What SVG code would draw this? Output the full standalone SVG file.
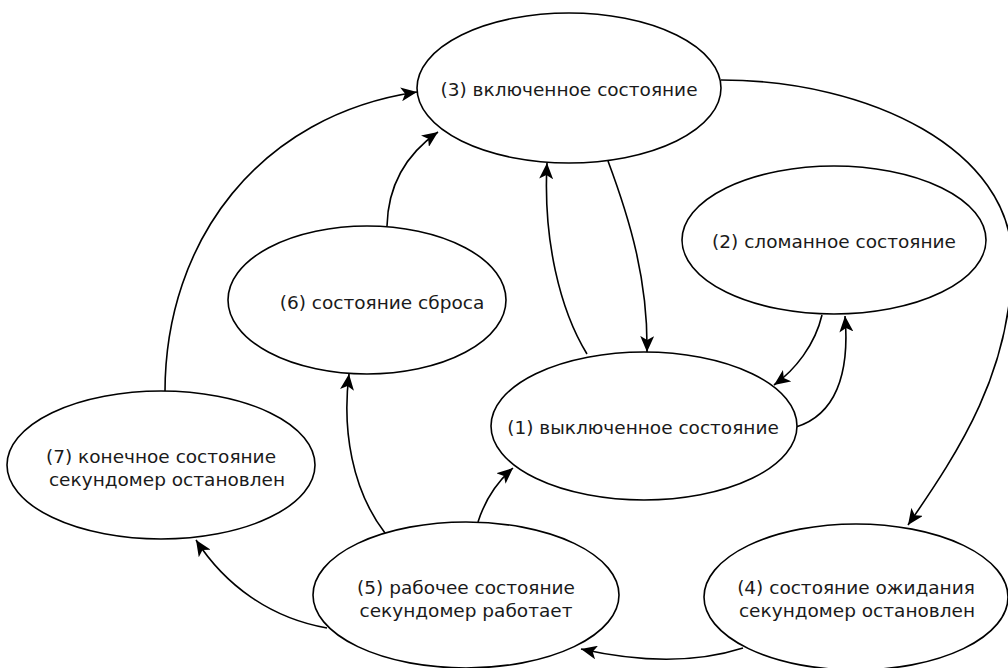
<svg xmlns="http://www.w3.org/2000/svg" width="1008" height="668" viewBox="0 0 1008 668">
<style>
.n ellipse{fill:#fff;stroke:#000;stroke-width:1.6}
.n text{font-family:"DejaVu Sans","Noto Sans",sans-serif;font-size:18.5px;fill:#1a1a1a;text-anchor:middle}
.e path{fill:none;stroke:#000;stroke-width:1.6;marker-end:url(#ah)}
</style>
<defs>
<marker id="ah" markerUnits="userSpaceOnUse" markerWidth="18" markerHeight="14" refX="16" refY="7" orient="auto">
<path d="M0,0 L16,7 L0,14 L4,7 z" fill="#000"/>
</marker>
</defs>
<rect width="1008" height="668" fill="#fff"/>
<g class="e" id="connectors">
<path d="M165,392 C165,240 260,115 417,92"/>
<path d="M387,226 C388,185 405,155 438,132"/>
<path d="M587,354 C560,310 543,240 547,163"/>
<path d="M608,161 C630,220 648,280 647,352"/>
<path d="M822,315 C815,345 795,370 774,385"/>
<path d="M796,427 C835,415 850,375 845,316"/>
<path d="M721,80 C870,80 1012,150 1012,260 C1012,370 960,450 908,525"/>
<path d="M743,648 C690,665 630,660 581,649"/>
<path d="M478,522 C485,500 497,482 513,468"/>
<path d="M385,533 C352,490 342,430 349,374"/>
<path d="M327,628 C270,618 225,585 196,540"/>
</g>
<g class="n" id="s3"><ellipse cx="569" cy="88" rx="152" ry="75"/><text x="569" y="96">(3) включенное состояние</text></g>
<g class="n" id="s2"><ellipse cx="834" cy="240" rx="152" ry="74"/><text x="834" y="248">(2) сломанное состояние</text></g>
<g class="n" id="s1"><ellipse cx="644" cy="426" rx="153" ry="74"/><text x="643" y="434">(1) выключенное состояние</text></g>
<g class="n" id="s6"><ellipse cx="367" cy="300" rx="139" ry="74"/><text x="382" y="309">(6) состояние сброса</text></g>
<g class="n" id="s7"><ellipse cx="161" cy="465" rx="154" ry="74"/><text x="161" y="463">(7) конечное состояние</text><text x="167" y="486">секундомер остановлен</text></g>
<g class="n" id="s5"><ellipse cx="466" cy="595" rx="153" ry="73"/><text x="466" y="594">(5) рабочее состояние</text><text x="466" y="617">секундомер работает</text></g>
<g class="n" id="s4"><ellipse cx="856" cy="597" rx="152" ry="73"/><text x="856" y="594">(4) состояние ожидания</text><text x="857" y="617">секундомер остановлен</text></g>
</svg>
